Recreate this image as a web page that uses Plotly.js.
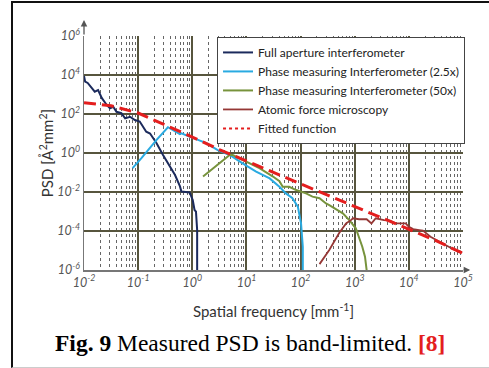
<!DOCTYPE html>
<html>
<head>
<meta charset="utf-8">
<script src="https://cdn.plot.ly/plotly-3.0.1.min.js"></script>
<style>
  html, body { margin: 0; padding: 0; background: #fff; }
  #wrap { position: relative; width: 489px; height: 368px; overflow: hidden; }
  #chart { width: 489px; height: 368px; }
  #frame { position: absolute; left: 11px; top: 1px; width: 480px; height: 364px;
           border-top: 2px solid #111; border-left: 2px solid #111; border-bottom: 1px solid #ccc;
           pointer-events: none; }
</style>
</head>
<body>
<div id="wrap">
  <div id="chart"></div>
  <div id="frame"></div>
</div>
<script>
// Full aperture interferometer
const fullFreq = [0.0100, 0.0105, 0.0117, 0.0138, 0.0158, 0.0182, 0.0214, 0.0263, 0.0302, 0.0347, 0.0398, 0.049, 0.0575, 0.0708, 0.087, 0.107, 0.123, 0.141, 0.166, 0.219, 0.288, 0.38, 0.48, 0.59, 0.63, 0.76, 0.89, 1.02, 1.10, 1.17, 1.23, 1.23];
const fullPsd  = [8900, 4600, 3900, 2100, 1400, 1700, 650, 290, 195, 235, 130, 110, 60, 72, 49, 41, 22, 12.3, 10, 3.2, 0.8, 0.2, 0.074, 0.02, 0.0105, 0.01, 0.0095, 0.0039, 0.0012, 0.00098, 0.000112, 1e-7];

// Phase measuring interferometer (2.5x)
const pmi25Freq = [0.079, 0.115, 0.219, 0.355, 0.59, 0.63, 0.89, 1.82, 2.95, 4.9, 8.5, 15.1, 26.9, 40.7, 53.7, 70.8, 89, 102, 110, 110];
const pmi25Psd  = [0.166, 0.54, 4.7, 21, 9.3, 10.2, 6.9, 3.2, 1.41, 0.79, 0.295, 0.11, 0.05, 0.0186, 0.0085, 0.0048, 0.00178, 0.000245, 1.55e-5, 1e-7];

// Phase measuring interferometer (50x)
const pmi50Freq = [1.58, 3.16, 4.9, 5.6, 10, 17.4, 30.9, 40.7, 46.8, 61.7, 83, 126, 166, 224, 295, 339, 603, 794, 1047, 1202, 1380, 1549, 1660, 1680];
const pmi50Psd  = [0.062, 0.295, 0.79, 0.79, 0.36, 0.166, 0.062, 0.036, 0.0186, 0.0186, 0.0126, 0.0085, 0.0058, 0.0048, 0.0026, 0.00214, 0.00081, 0.00036, 0.000138, 5.1e-5, 1.55e-5, 4.8e-6, 1e-6, 1e-7];

// Atomic force microscopy
const afmFreq = [224, 339, 513, 692, 851, 933, 1202, 1660, 2040, 2450, 3470, 4470, 5750, 8700, 10000, 12000, 15500, 18200, 25100, 36300, 55000, 64600, 91000, 95000];
const afmPsd  = [2.0e-6, 1.07e-5, 7.6e-5, 2.45e-4, 3.6e-4, 4.5e-4, 4.0e-4, 4.0e-4, 2.45e-4, 4.5e-4, 3.6e-4, 3.4e-4, 2.45e-4, 2.45e-4, 1.66e-4, 1.26e-4, 1.12e-4, 1.05e-4, 5.1e-5, 2.8e-5, 1.55e-5, 1.2e-5, 8.7e-6, 7.4e-6];

// Fitted function
const fitFreq = [0.01, 0.0316, 0.1, 0.316, 1, 3.16, 10, 31.6, 100, 316, 1000, 3160, 10000, 31600, 100000];
const fitPsd  = [380, 263, 112, 28, 6.6, 1.5, 0.38, 0.1, 0.026, 0.0069, 0.00178, 0.00048, 0.000126, 3.2e-5, 7.1e-6];

// Tick labels
const xTickVals = [1e-2, 1e-1, 1, 1e1, 1e2, 1e3, 1e4, 1e5];
const xTickText = ['10<sup>-2</sup>', '10<sup>-1</sup>', '10<sup>0</sup>', '10<sup>1</sup>', '10<sup>2</sup>', '10<sup>3</sup>', '10<sup>4</sup>', '10<sup>5</sup>'];
const yTickVals = [1e-6, 1e-4, 1e-2, 1, 1e2, 1e4, 1e6];
const yTickText = ['10<sup>-6</sup>', '10<sup>-4</sup>', '10<sup>-2</sup>', '10<sup>0</sup>', '10<sup>2</sup>', '10<sup>4</sup>', '10<sup>6</sup>'];

const seriesNames = ['Full aperture interferometer', 'Phase measuring Interferometer (2.5x)', 'Phase measuring Interferometer (50x)', 'Atomic force microscopy', 'Fitted function'];
const seriesColors = ['#1b2a5c', '#29aae1', '#77933c', '#953735', '#e41e1e'];

const traces = [
  {x: fullFreq, y: fullPsd, name: seriesNames[0], mode: 'lines', line: {color: seriesColors[0], width: 2}},
  {x: pmi25Freq, y: pmi25Psd, name: seriesNames[1], mode: 'lines', line: {color: seriesColors[1], width: 2}},
  {x: pmi50Freq, y: pmi50Psd, name: seriesNames[2], mode: 'lines', line: {color: seriesColors[2], width: 2}},
  {x: afmFreq, y: afmPsd, name: seriesNames[3], mode: 'lines', line: {color: seriesColors[3], width: 1.8}},
  {x: fitFreq, y: fitPsd, name: seriesNames[4], mode: 'lines', showlegend: false, line: {color: seriesColors[4], width: 3, dash: '12px,6px'}},
  {x: [null], y: [null], name: seriesNames[4], mode: 'lines', line: {color: seriesColors[4], width: 2, dash: 'dot'}}
];

const majorGrid = '#57553d';
const tickFont = {family: 'Lato, sans-serif', size: 12.5, color: '#555', style: 'italic'};

const layout = {
  width: 489, height: 368,
  margin: {l: 84, r: 26, t: 36, b: 98},
  paper_bgcolor: '#fff', plot_bgcolor: '#fff',
  showlegend: true,
  legend: {x: 0.351, y: 0.996, xanchor: 'left', yanchor: 'top', bgcolor: '#fff', bordercolor: '#444', borderwidth: 1,
           font: {family: 'Lato, sans-serif', size: 12, color: '#222'}, tracegroupgap: 0},
  xaxis: {
    type: 'log', range: [-2, 5], tickmode: 'array', tickvals: xTickVals, ticktext: xTickText,
    showgrid: true, gridcolor: majorGrid, gridwidth: 2,
    minor: {dtick: 'D1', showgrid: true, gridcolor: '#666', griddash: 'dot', gridwidth: 1, ticks: ''},
    showline: true, linecolor: '#777', linewidth: 1.5, ticks: '', tickfont: tickFont, zeroline: false,
    title: {text: 'Spatial frequency [mm<sup>-1</sup>]', font: {family: 'Lato, sans-serif', size: 15, color: '#333'}, standoff: 18},
    automargin: false
  },
  yaxis: {
    type: 'log', range: [-6, 6], tickmode: 'array', tickvals: yTickVals, ticktext: yTickText,
    showgrid: true, gridcolor: majorGrid, gridwidth: 2,
    showline: true, linecolor: '#777', linewidth: 1.5, ticks: '', tickfont: tickFont, zeroline: false,
    title: {text: 'PSD [Å<sup>2</sup>mm<sup>2</sup>]', font: {family: 'Lato, sans-serif', size: 15, color: '#333'}, standoff: 0},
    automargin: false
  },
  annotations: [
    {x: 0, y: 1.068, xref: 'paper', yref: 'paper', text: '', showarrow: true, ax: 0, ay: 16, arrowhead: 2, arrowsize: 1, arrowwidth: 1.3, arrowcolor: '#555'},
    {x: 1.019, y: 0, xref: 'paper', yref: 'paper', text: '', showarrow: true, ax: -8, ay: 0, arrowhead: 2, arrowsize: 1, arrowwidth: 1.3, arrowcolor: '#555'},
    {x: 0.439, y: -0.312, xref: 'paper', yref: 'paper', xanchor: 'center', yanchor: 'middle', showarrow: false,
     text: '<b>Fig. 9</b> Measured PSD is band-limited. <b><span style="color:#e41e1e">[8]</span></b>',
     font: {family: 'Liberation Serif, Times New Roman, serif', size: 23.5, color: '#000'}}
  ]
};

Plotly.newPlot('chart', traces, layout, {staticPlot: true, displayModeBar: false});
</script>
</body>
</html>
